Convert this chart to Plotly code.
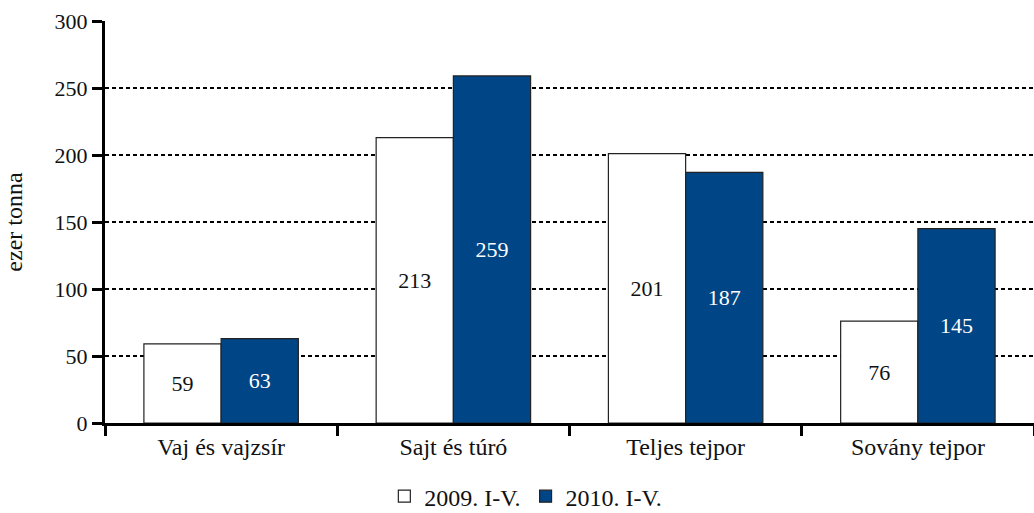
import plotly.graph_objects as go

categories = ["Vaj és vajzsír", "Sajt és túró", "Teljes tejpor", "Sovány tejpor"]
series_2009 = [59, 213, 201, 76]
series_2010 = [63, 259, 187, 145]
y_ticks = [0, 50, 100, 150, 200, 250, 300]

FONT = "Liberation Serif"
FS_NUM = 22
FS_TXT = 24

fig = go.Figure()
fig.add_trace(go.Bar(
    name="2009. I-V.", x=categories, y=series_2009,
    marker=dict(color="white", line=dict(color="#222222", width=1.2)),
    text=[str(v) for v in series_2009], textposition="inside",
    insidetextanchor="middle", textangle=0,
    textfont=dict(color="#111111", size=FS_NUM, family=FONT),
))
fig.add_trace(go.Bar(
    name="2010. I-V.", x=categories, y=series_2010,
    marker=dict(color="#004585", line=dict(color="#222222", width=1.2)),
    text=[str(v) for v in series_2010], textposition="inside",
    insidetextanchor="middle", textangle=0,
    textfont=dict(color="white", size=FS_NUM, family=FONT),
))

fig.update_layout(
    width=1034, height=513,
    margin=dict(l=105, r=0, t=21, b=90, autoexpand=False),
    paper_bgcolor="white", plot_bgcolor="white",
    barmode="group", bargap=0.335, bargroupgap=0,
    font=dict(family=FONT, size=FS_NUM, color="#111111"),
    uniformtext=dict(mode="show", minsize=FS_NUM),
    legend=dict(orientation="h", x=0.453, xanchor="center",
                yref="container", y=0.032, yanchor="middle",
                font=dict(size=FS_TXT, family=FONT), traceorder="normal",
                itemwidth=30),
)
fig.update_yaxes(
    range=[0, 300], tickvals=y_ticks, ticks="outside", ticklen=10, tickwidth=3,
    tickcolor="black", showline=True, linecolor="black", linewidth=3,
    showgrid=True, gridcolor="black", gridwidth=2, griddash="4px,3px",
    zeroline=False, automargin=False,
    title=dict(text="ezer tonna", standoff=26, font=dict(size=FS_TXT, family=FONT)),
    tickfont=dict(size=FS_NUM, family=FONT),
)
fig.update_xaxes(
    ticks="outside", tickson="boundaries", ticklen=10, tickwidth=3, tickcolor="black",
    showline=True, linecolor="black", linewidth=3, automargin=False,
    tickfont=dict(size=FS_TXT, family=FONT),
)

fig.write_html("out.html", config={"displayModeBar": False},
               post_script="document.body.style.margin='0';")
